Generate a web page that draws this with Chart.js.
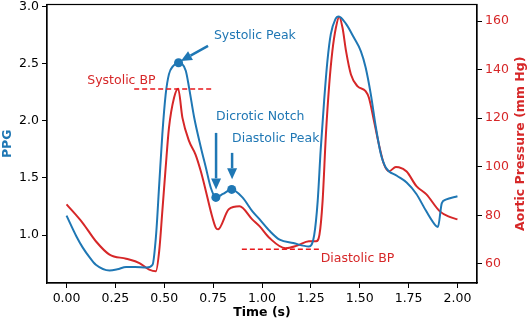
<!DOCTYPE html>
<html>
<head>
<meta charset="utf-8">
<script src="https://cdn.jsdelivr.net/npm/chart.js@4.4.0/dist/chart.umd.min.js"></script>
<style>
html, body { margin: 0; padding: 0; background: #fff; }
</style>
</head>
<body>
<canvas id="graph" width="530" height="322"></canvas>
<script>
// PPG trace (left axis)
const ppgTime = [0.00, 0.05, 0.083, 0.12, 0.15, 0.22, 0.26, 0.305, 0.35, 0.41, 0.44, 0.458, 0.474, 0.49, 0.507, 0.524, 0.545, 0.573,
    0.61, 0.627, 0.653, 0.687, 0.713, 0.738, 0.764, 0.80, 0.845, 0.90, 0.95, 0.987, 1.04, 1.09, 1.16, 1.24, 1.267, 1.285, 1.30,
    1.318, 1.335, 1.352, 1.375, 1.392, 1.43, 1.47, 1.506, 1.53, 1.557, 1.583, 1.608, 1.634, 1.69, 1.74, 1.79, 1.84, 1.89, 1.90,
    1.92, 1.94, 2.00]
const ppgValues = [1.17, 0.99, 0.89, 0.80, 0.74, 0.69, 0.70, 0.72, 0.72, 0.715, 0.74, 1.00, 1.44, 1.88, 2.23, 2.41, 2.48, 2.51,
    2.44, 2.29, 2.03, 1.77, 1.59, 1.415, 1.33, 1.36, 1.40, 1.33, 1.21, 1.14, 1.035, 0.96, 0.93, 0.90, 1.00, 1.30, 1.74,
    2.18, 2.53, 2.76, 2.89, 2.915, 2.85, 2.73, 2.61, 2.47, 2.23, 1.94, 1.71, 1.59, 1.52, 1.46, 1.36, 1.21, 1.08, 1.07,
    1.28, 1.31, 1.34]

// Aortic pressure trace (right axis)
const bpTime = [0.00, 0.083, 0.15, 0.22, 0.305, 0.373, 0.423, 0.457, 0.474, 0.49, 0.507, 0.524, 0.55, 0.571, 0.593, 0.627,
    0.66, 0.687, 0.713, 0.738, 0.764, 0.775, 0.83, 0.885, 0.95, 0.987, 1.04, 1.12, 1.18, 1.24, 1.277, 1.294, 1.31, 1.327,
    1.344, 1.36, 1.378, 1.395, 1.412, 1.43, 1.455, 1.488, 1.53, 1.547, 1.573, 1.598, 1.624, 1.65, 1.685, 1.70, 1.74, 1.79,
    1.84, 1.91, 1.96, 2.00]
const bpValues = [84.5, 76.8, 69.3, 63.8, 62.1, 60.3, 57.6, 56.9, 65.2, 81.6, 99.5, 116, 128.4, 132.1, 120.1, 110.5,
    105, 98.1, 89.9, 81.6, 74.8, 74.2, 82.5, 83.7, 78.3, 75.5, 70.5, 66.4, 67.5, 69.3, 69.3, 72, 85.8, 113.3,
    133.9, 147.6, 157.2, 161.8, 157.2, 147.6, 138, 133.2, 131.1, 128.4, 118.8, 109.2, 101, 98.1, 99.9, 99.8, 98, 92,
    88.7, 81.6, 79.3, 78.3]

// marked features on the PPG trace
const featureTimes = [0.573, 0.764, 0.845]
const featureValues = [2.51, 1.33, 1.40]

const systolicBP = 132
const diastolicBP = 66

const xTicks = [0, 0.25, 0.5, 0.75, 1.0, 1.25, 1.5, 1.75, 2.0]
const ppgTicks = [1.0, 1.5, 2.0, 2.5, 3.0]
const bpTicks = [60, 80, 100, 120, 140, 160]

const blue = '#1f77b4'
const red = '#d62728'
const font = 'DejaVu Sans'

Chart.defaults.font.family = font
Chart.defaults.font.size = 12.5
Chart.defaults.color = '#000'

function toPoints(xs, ys){
    return xs.map((x, i) => ({x: x, y: ys[i]}))
}

function drawArrow(ctx, x1, y1, x2, y2){
    const head = 11, half = 5
    const ang = Math.atan2(y2 - y1, x2 - x1)
    const bx = x2 - head * Math.cos(ang), by = y2 - head * Math.sin(ang)
    ctx.strokeStyle = blue
    ctx.fillStyle = blue
    ctx.lineWidth = 2.5
    ctx.beginPath()
    ctx.moveTo(x1, y1)
    ctx.lineTo(bx, by)
    ctx.stroke()
    ctx.beginPath()
    ctx.moveTo(x2, y2)
    ctx.lineTo(bx + half * Math.sin(ang), by - half * Math.cos(ang))
    ctx.lineTo(bx - half * Math.sin(ang), by + half * Math.cos(ang))
    ctx.closePath()
    ctx.fill()
}

const annotations = {
    id: 'annotations',
    afterDatasetsDraw(chart){
        const ctx = chart.ctx
        const sx = chart.scales.x, sy = chart.scales.y, sy1 = chart.scales.y1
        const area = chart.chartArea
        const X = v => sx.getPixelForValue(v)
        const Y = v => sy.getPixelForValue(v)
        const Y1 = v => sy1.getPixelForValue(v)
        ctx.save()

        // dashed BP levels
        ctx.strokeStyle = '#e8191c'
        ctx.lineWidth = 1.6
        ctx.setLineDash([5, 3])
        ctx.beginPath()
        ctx.moveTo(X(0.346), Y1(systolicBP))
        ctx.lineTo(X(0.744), Y1(systolicBP))
        ctx.moveTo(X(0.897), Y1(diastolicBP))
        ctx.lineTo(X(1.30), Y1(diastolicBP))
        ctx.stroke()
        ctx.setLineDash([])

        // arrows
        drawArrow(ctx, X(0.724), Y(2.658), X(0.585), Y(2.526))
        drawArrow(ctx, X(0.765), Y(1.895), X(0.765), Y(1.40))
        drawArrow(ctx, X(0.847), Y(1.72), X(0.847), Y(1.49))

        // labels
        ctx.font = '12.5px "' + font + '"'
        ctx.textBaseline = 'middle'
        ctx.textAlign = 'left'
        ctx.fillStyle = blue
        ctx.fillText('Systolic Peak', X(0.754), Y(2.745))
        ctx.fillText('Dicrotic Notch', X(0.765), Y(2.035))
        ctx.fillText('Diastolic Peak', X(0.847), Y(1.842))
        ctx.fillStyle = red
        ctx.fillText('Systolic BP', X(0.106), Y1(135.3))
        ctx.fillText('Diastolic BP', X(1.30), Y1(61.9))

        // frame
        ctx.strokeStyle = '#000'
        ctx.lineWidth = 1.2
        ctx.strokeRect(area.left, area.top, area.right - area.left, area.bottom - area.top)

        // right axis title, reading bottom to top
        ctx.save()
        ctx.translate(521, (area.top + area.bottom) / 2)
        ctx.rotate(-Math.PI / 2)
        ctx.textAlign = 'center'
        ctx.fillStyle = red
        ctx.font = 'bold 12.5px "' + font + '"'
        ctx.fillText('Aortic Pressure (mm Hg)', 0, 0)
        ctx.restore()

        ctx.restore()
    }
}

const canvas = document.querySelector('#graph')
const chart = new Chart(canvas.getContext('2d'), {
    type: 'line',
    data: {
        datasets: [
            {
                data: toPoints(featureTimes, featureValues),
                yAxisID: 'y',
                showLine: false,
                pointRadius: 4.5,
                pointBackgroundColor: blue,
                pointBorderWidth: 0,
                borderColor: blue
            },
            {
                data: toPoints(ppgTime, ppgValues),
                yAxisID: 'y',
                borderColor: blue,
                borderWidth: 2,
                pointRadius: 0,
                cubicInterpolationMode: 'monotone'
            },
            {
                data: toPoints(bpTime, bpValues),
                yAxisID: 'y1',
                borderColor: red,
                borderWidth: 2,
                pointRadius: 0,
                cubicInterpolationMode: 'monotone'
            }
        ]
    },
    options: {
        responsive: false,
        animation: false,
        devicePixelRatio: 1,
        layout: {padding: {top: 3, left: 0, right: 0, bottom: 0}},
        plugins: {legend: {display: false}, tooltip: {enabled: false}},
        scales: {
            x: {
                type: 'linear',
                min: -0.1,
                max: 2.1,
                afterBuildTicks: s => { s.ticks = xTicks.map(v => ({value: v})) },
                afterFit: s => { s.height = 39; s.paddingLeft = 0; s.paddingRight = 0 },
                ticks: {callback: v => v.toFixed(2), padding: 3, maxRotation: 0, color: '#000'},
                grid: {drawOnChartArea: false, tickLength: 5, color: '#000', tickWidth: 1},
                border: {color: '#000', width: 1.2},
                title: {display: true, text: 'Time (s)', font: {weight: 'bold', size: 12.5}, padding: {top: 0, bottom: 2}, color: '#000'}
            },
            y: {
                position: 'left',
                min: 0.58,
                max: 3.02,
                afterBuildTicks: s => { s.ticks = ppgTicks.map(v => ({value: v})) },
                afterFit: s => { s.width = 47; s.paddingTop = 0; s.paddingBottom = 0 },
                ticks: {callback: v => v.toFixed(1), padding: 3, color: '#000'},
                grid: {drawOnChartArea: false, tickLength: 5, color: '#000'},
                border: {color: '#000', width: 1.2},
                title: {display: true, text: 'PPG', color: blue, font: {weight: 'bold', size: 12.5}, padding: {top: 0, bottom: 0}}
            },
            y1: {
                position: 'right',
                min: 52.1,
                max: 166.8,
                afterBuildTicks: s => { s.ticks = bpTicks.map(v => ({value: v})) },
                afterFit: s => { s.width = 53; s.paddingTop = 0; s.paddingBottom = 0 },
                ticks: {callback: v => String(v), padding: 3, color: red},
                grid: {drawOnChartArea: false, tickLength: 5, color: '#000'},
                border: {color: '#000', width: 1.2}
            }
        }
    },
    plugins: [annotations]
})
</script>
</body>
</html>
